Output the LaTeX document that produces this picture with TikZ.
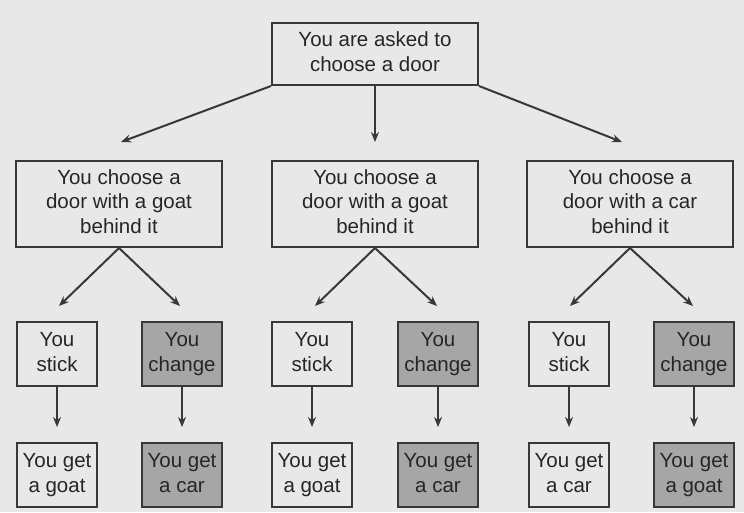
\documentclass[tikz,border=0pt]{standalone}
\usepackage{fontspec}
\setmainfont{Liberation Sans}
\usetikzlibrary{arrows.meta}
\definecolor{bg}{HTML}{E8E8E8}
\definecolor{shade}{HTML}{A6A6A6}
\definecolor{ink}{HTML}{383838}
\definecolor{txt}{HTML}{262626}
\tikzset{
  box/.style={draw=ink, line width=2pt, fill=bg, text=txt, align=center,
    inner sep=0pt, font=\fontsize{20.5}{24.5}\selectfont},
  dark/.style={box, fill=shade},
  big/.style={minimum width=206pt, minimum height=86pt},
  small/.style={minimum width=80pt, minimum height=64pt},
  arr/.style={draw=ink, line width=2pt, -{Stealth[length=10pt,width=8pt]}}
}
\begin{document}
\begin{tikzpicture}[x=1pt,y=-1pt]
\fill[bg] (0,0) rectangle (744,512);
\useasboundingbox (0,0) rectangle (744,512);
% top
\node[box, minimum width=206pt, minimum height=62pt] (top) at (375,54) {\strut You are asked to\\\strut choose a door};
% middle
\node[box, big] (m1) at (119,204) {\strut You choose a\\\strut door with a goat\\\strut behind it};
\node[box, big] (m2) at (375,204) {\strut You choose a\\\strut door with a goat\\\strut behind it};
\node[box, big] (m3) at (630,204) {\strut You choose a\\\strut door with a car\\\strut behind it};
% decisions
\node[box, small] (s1) at (57,354) {\strut You\\\strut stick};
\node[dark, small] (c1) at (182,354) {\strut You\\\strut change};
\node[box, small] (s2) at (312,354) {\strut You\\\strut stick};
\node[dark, small] (c2) at (438,354) {\strut You\\\strut change};
\node[box, small] (s3) at (569,354) {\strut You\\\strut stick};
\node[dark, small] (c3) at (694,354) {\strut You\\\strut change};
% outcomes
\node[box, small] (g1) at (57,475) {\strut You get\\\strut a goat};
\node[dark, small] (r1) at (182,475) {\strut You get\\\strut a car};
\node[box, small] (g2) at (312,475) {\strut You get\\\strut a goat};
\node[dark, small] (r2) at (438,475) {\strut You get\\\strut a car};
\node[box, small] (g3) at (569,475) {\strut You get\\\strut a car};
\node[dark, small] (r3) at (694,475) {\strut You get\\\strut a goat};
% arrow end points
\coordinate (t1) at (121,142);
\coordinate (t2) at (375,142);
\coordinate (t3) at (622,142);
\coordinate (a1) at (59,306);  \coordinate (b1) at (180,306);
\coordinate (a2) at (315,306); \coordinate (b2) at (437,306);
\coordinate (a3) at (570,306); \coordinate (b3) at (693,306);
% arrows from top
\draw[arr] (top.south west) -- (t1);
\draw[arr] (top.south) -- (t2);
\draw[arr] (top.south east) -- (t3);
% arrows from middle
\draw[arr] (m1.south) -- (a1);
\draw[arr] (m1.south) -- (b1);
\draw[arr] (m2.south) -- (a2);
\draw[arr] (m2.south) -- (b2);
\draw[arr] (m3.south) -- (a3);
\draw[arr] (m3.south) -- (b3);
% vertical arrows
\foreach \u/\v in {s1/g1,c1/r1,s2/g2,c2/r2,s3/g3,c3/r3}
  \draw[arr, shorten >=15pt] (\u.south) -- (\v.north);
\end{tikzpicture}
\end{document}
